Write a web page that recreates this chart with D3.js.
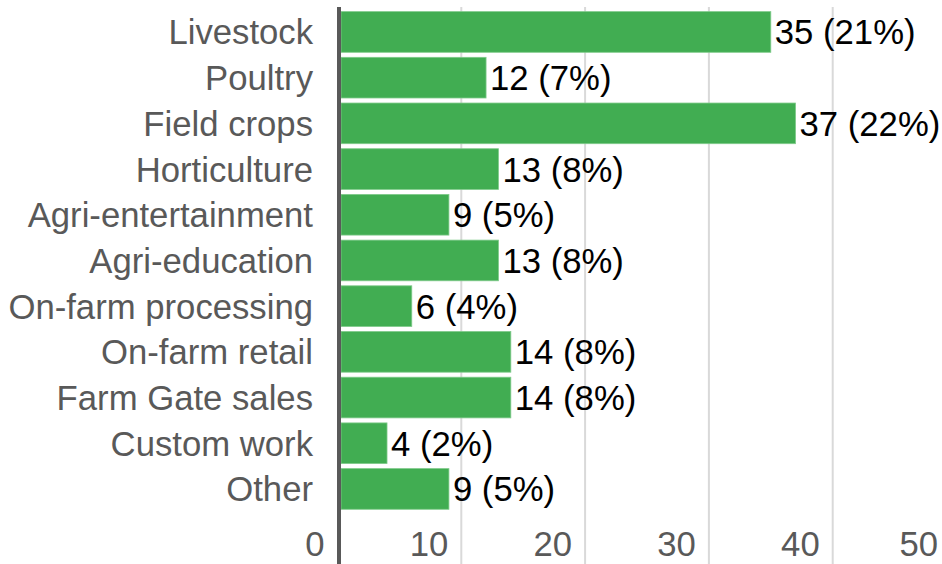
<!DOCTYPE html>
<html>
<head>
<meta charset="utf-8">
<script src="https://cdn.jsdelivr.net/npm/d3@7"></script>
<style>
  html, body { margin: 0; padding: 0; background: #fff; }
  svg { display: block; font-family: "Liberation Sans", Arial, sans-serif; }
</style>
</head>
<body>
<svg id="chart" width="942" height="564"></svg>
<script>
// Farm activity categories and respondent counts
const categories = ["Livestock", "Poultry", "Field crops", "Horticulture", "Agri-entertainment",
  "Agri-education", "On-farm processing", "On-farm retail", "Farm Gate sales", "Custom work", "Other"];
const counts = [35, 12, 37, 13, 9, 13, 6, 14, 14, 4, 9];
const percents = [21, 7, 22, 8, 5, 8, 4, 8, 8, 2, 5];
const tickValues = [0, 10, 20, 30, 40, 50];

const W = 942, H = 564;
const svg = d3.select("#chart");

const x = d3.scaleLinear().domain([0, 50]).range([337.5, 956.5]);
const y = d3.scaleBand().domain(categories).range([6.6, 514.3]).paddingInner(0.11).paddingOuter(0.11);

const fontSize = 34.7;

// Vertical gridlines
svg.append("g")
  .selectAll("line")
  .data(tickValues.filter(v => v > 0))
  .join("line")
  .attr("x1", d => x(d)).attr("x2", d => x(d))
  .attr("y1", 7).attr("y2", H)
  .attr("stroke", "#d9d9d9")
  .attr("stroke-width", 2);

// Bars
svg.append("g")
  .selectAll("rect")
  .data(categories)
  .join("rect")
  .attr("x", x(0) + 3.5)
  .attr("y", d => y(d))
  .attr("width", (d, i) => x(counts[i]) - x(0) - 3.5)
  .attr("height", y.bandwidth())
  .attr("fill", "#41ad52")
  .attr("stroke", "#7fca8a")
  .attr("stroke-width", 0.8);

// Value labels
svg.append("g")
  .selectAll("text")
  .data(categories)
  .join("text")
  .attr("x", (d, i) => x(counts[i]) + 4)
  .attr("y", d => y(d) + y.bandwidth() / 2)
  .attr("dy", "0.36em")
  .attr("font-size", fontSize)
  .attr("fill", "#000")
  .text((d, i) => `${counts[i]} (${percents[i]}%)`);

// Category axis labels
svg.append("g")
  .selectAll("text")
  .data(categories)
  .join("text")
  .attr("x", 313)
  .attr("y", d => y(d) + y.bandwidth() / 2)
  .attr("dy", "0.36em")
  .attr("text-anchor", "end")
  .attr("font-size", fontSize)
  .attr("fill", "#595959")
  .text(d => d);

// Value axis tick labels
svg.append("g")
  .selectAll("text")
  .data(tickValues)
  .join("text")
  .attr("x", d => Math.min(x(d) - 13, 938))
  .attr("y", 556)
  .attr("text-anchor", "end")
  .attr("font-size", fontSize)
  .attr("fill", "#595959")
  .text(d => d);

// Category axis line
svg.append("line")
  .attr("x1", x(0) + 1.5).attr("x2", x(0) + 1.5)
  .attr("y1", 7).attr("y2", H)
  .attr("stroke", "#595959")
  .attr("stroke-width", 4);
</script>
</body>
</html>
